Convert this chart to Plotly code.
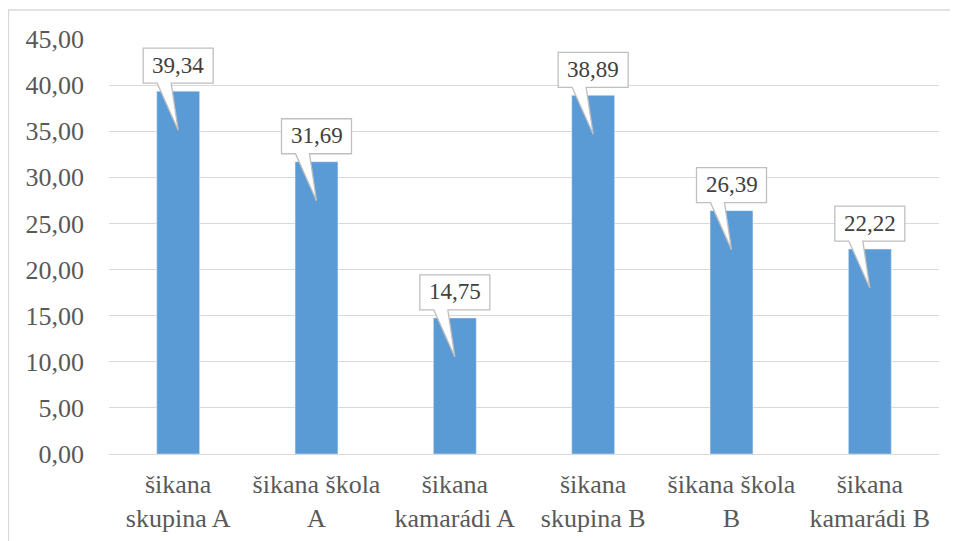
import plotly.graph_objects as go

categories = [
    "šikana skupina A",
    "šikana škola A",
    "šikana kamarádi A",
    "šikana skupina B",
    "šikana škola B",
    "šikana kamarádi B",
]
tick_labels = [
    "šikana<br>skupina A",
    "šikana škola<br>A",
    "šikana<br>kamarádi A",
    "šikana<br>skupina B",
    "šikana škola<br>B",
    "šikana<br>kamarádi B",
]
values = [39.34, 31.69, 14.75, 38.89, 26.39, 22.22]

FONT = "Liberation Serif"
BAR_COLOR = "#5B9BD5"
GRID = "#D9D9D9"
TEXT = "#595959"

fig = go.Figure(
    go.Bar(x=categories, y=values, marker_color=BAR_COLOR, width=0.31)
)

# excel style callout: box above the bar with a wedge pointing into it
callout = "M -35,8 L -35,43 L 35,43 L 35,8 L -7,8 L 0,-39 L -21,8 Z"
shapes = []
annotations = []
for cat, val in zip(categories, values):
    shapes.append(dict(
        type="path", xref="x", yref="y",
        xsizemode="pixel", ysizemode="pixel",
        xanchor=cat, yanchor=val, path=callout,
        fillcolor="white", line=dict(color="#BFBFBF", width=1.3),
    ))
    annotations.append(dict(
        x=cat, y=val, xref="x", yref="y", showarrow=False,
        text=f"{val:.2f}".replace(".", ","), yshift=26,
        font=dict(family=FONT, size=23, color="#404040"),
    ))

# chart frame (the page cuts it off at right and bottom)
shapes.append(dict(
    type="rect", xref="paper", yref="paper", layer="below",
    x0=-0.1211, x1=1.05, y0=-0.3, y1=1.0699,
    line=dict(color=GRID, width=1.3), fillcolor="rgba(0,0,0,0)",
))

fig.update_layout(
    width=958, height=541,
    margin=dict(l=101, r=27, t=31, b=95, autoexpand=False),
    paper_bgcolor="white", plot_bgcolor="white",
    font=dict(family=FONT, size=26, color=TEXT),
    separators=", ",
    showlegend=False,
    shapes=shapes,
    annotations=annotations,
)
fig.update_xaxes(
    tickvals=categories, ticktext=tick_labels, automargin=False,
    showline=True, linecolor=GRID, linewidth=1.3,
    showgrid=False, ticks="", ticklabelstandoff=7,
)
fig.update_yaxes(
    range=[0, 45], dtick=5, tickformat=".2f", automargin=False,
    showgrid=True, gridcolor=GRID, gridwidth=1.3,
    zeroline=False, ticks="", ticklabelstandoff=24,
)

fig.write_html("out.html")
